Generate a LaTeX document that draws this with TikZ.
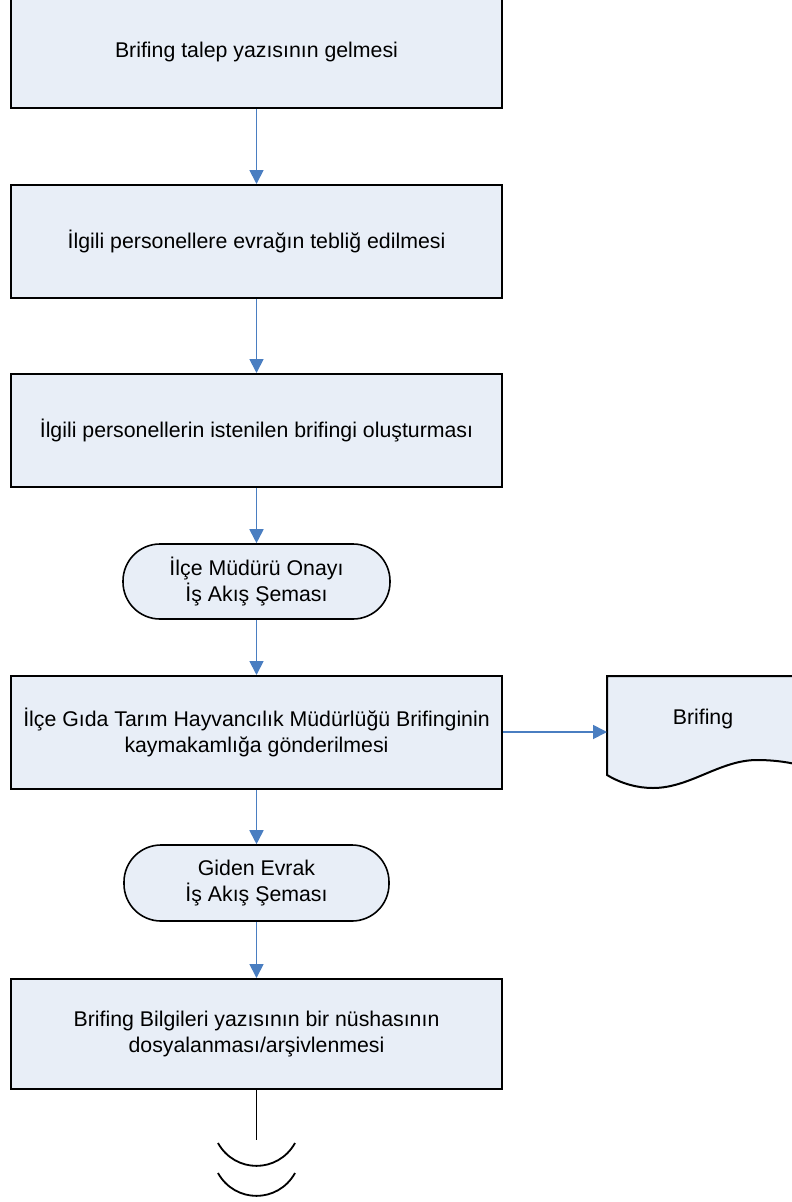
\documentclass[tikz,border=0pt]{standalone}
\usepackage{fontspec}
\setmainfont{Liberation Sans}
\usetikzlibrary{arrows.meta}
\definecolor{boxfill}{RGB}{232,238,247}
\definecolor{arrowblue}{RGB}{74,126,193}
\begin{document}
\begin{tikzpicture}[x=1pt,y=-1pt,
  every node/.style={font=\fontsize{21.3}{25.5}\selectfont},
  procbox/.style={draw=black, line width=2pt, fill=boxfill, minimum width=491pt, inner sep=0pt, align=center},
  termbox/.style={draw=black, line width=1.6pt, fill=boxfill, inner sep=0pt, align=center, rounded corners=37pt},
  flow/.style={draw=arrowblue, line width=1.8pt, -{Triangle[length=14pt,width=14pt]}},
  plainline/.style={draw=black, line width=1.8pt}
]
\useasboundingbox (0,0) rectangle (792,1202);
\node[procbox, minimum height=112pt] (b1) at (256.5,52) {Brifing talep yazısının gelmesi};
\node[procbox, minimum height=113pt] (b2) at (256.5,241.5) {İlgili personellere evrağın tebliğ edilmesi};
\node[procbox, minimum height=113pt] (b3) at (256.5,430.5) {İlgili personellerin istenilen brifingi oluşturması};
\node[termbox, minimum width=267pt, minimum height=75pt] (t1) at (256.5,581.5) {İlçe Müdürü Onayı\\İş Akış Şeması};
\node[procbox, minimum height=113pt] (b5) at (256.5,732.5) {İlçe Gıda Tarım Hayvancılık Müdürlüğü Brifinginin\\kaymakamlığa gönderilmesi};
\node[termbox, minimum width=265pt, minimum height=76pt] (t2) at (256.5,883) {Giden Evrak\\İş Akış Şeması};
\node[procbox, minimum height=110pt] (b7) at (256.5,1034) {Brifing Bilgileri yazısının bir nüshasının\\dosyalanması/arşivlenmesi};
% document shape
\draw[draw=black, line width=2pt, fill=boxfill]
  (607,676) -- (830,676) -- (830,776)
  .. controls (810,766) and (785,760) .. (757,760)
  .. controls (720,760) and (690,788) .. (653,788)
  .. controls (638,788) and (622,784) .. (607,775) -- cycle;
\coordinate (docL) at (607,732);
\node (doctext) at (703,719) {Brifing};
% connectors
\draw[flow] (b1.south) -- (b2.north);
\draw[flow] (b2.south) -- (b3.north);
\draw[flow] (b3.south) -- (t1.north);
\draw[flow] (t1.south) -- (b5.north);
\draw[flow] (b5.south) -- (t2.north);
\draw[flow] (t2.south) -- (b7.north);
\draw[flow] (b5.east |- docL) -- (docL);
% off-page connector
\coordinate (endpt) at (256.5,1140);
\draw[plainline] (b7.south) -- (endpt);
\draw[plainline] (218,1143) .. controls (235,1173.5) and (278,1173.5) .. (295,1143);
\draw[plainline] (218,1173) .. controls (235,1203.5) and (278,1203.5) .. (295,1173);
\end{tikzpicture}
\end{document}
